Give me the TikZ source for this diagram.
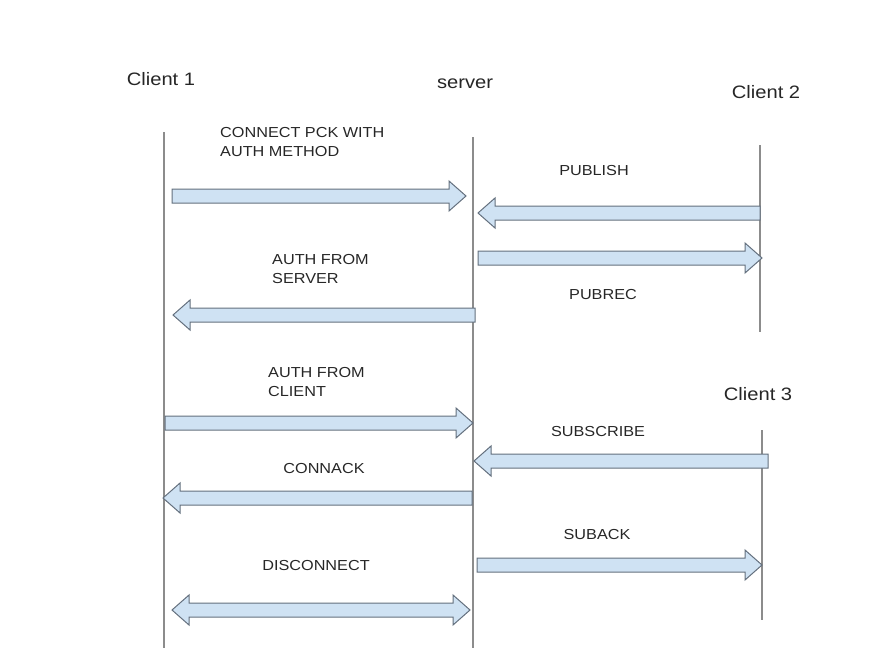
\documentclass[tikz,border=0pt]{standalone}
\usepackage{fontspec}
\setmainfont{Liberation Sans}[FakeStretch=1.12]
\begin{document}
\begin{tikzpicture}[x=1pt,y=-1pt,
  life/.style={draw=black!45,line width=1.1pt},
  blk/.style={fill={rgb,255:red,207;green,226;blue,243},draw={rgb,255:red,100;green,112;blue,126},line width=1pt,line join=miter},
  head/.style={font=\fontsize{18}{20}\selectfont,text=black!85,inner sep=0pt},
  lbl/.style={font=\fontsize{14.5}{19}\selectfont,text=black!85,inner sep=0pt,align=left}]
\useasboundingbox (0,0) rectangle (875,653);
\newcommand\arR[3]{\draw[blk] (#1,#3-7) -- (#2-17,#3-7) -- (#2-17,#3-15) -- (#2,#3) -- (#2-17,#3+15) -- (#2-17,#3+7) -- (#1,#3+7) -- cycle;}
\newcommand\arL[3]{\draw[blk] (#1,#3-7) -- (#2+17,#3-7) -- (#2+17,#3-15) -- (#2,#3) -- (#2+17,#3+15) -- (#2+17,#3+7) -- (#1,#3+7) -- cycle;}
% lifelines
\coordinate (c1t) at (164,132); \coordinate (c1b) at (164,648);
\coordinate (st) at (473,137); \coordinate (sb) at (473,648);
\coordinate (c2t) at (760,145); \coordinate (c2b) at (760,332);
\coordinate (c3t) at (762,430); \coordinate (c3b) at (762,620);
\draw[life] (c1t) -- (c1b);
\draw[life] (st) -- (sb);
\draw[life] (c2t) -- (c2b);
\draw[life] (c3t) -- (c3b);
% headers
\node[head] (h1) at (161,79) {Client 1};
\node[head] (hs) at (465,84) {server};
\node[head] (h2) at (766,92) {Client 2};
\node[head] (h3) at (758,394) {Client 3};
% labels
\node[lbl,anchor=west] (l1) at (220,142) {CONNECT PCK WITH\\AUTH METHOD};
\node[lbl] (l2) at (594,171) {PUBLISH};
\node[lbl,anchor=west] (l3) at (272,269) {AUTH FROM\\SERVER};
\node[lbl] (l4) at (603,295) {PUBREC};
\node[lbl,anchor=west] (l5) at (268,382) {AUTH FROM\\CLIENT};
\node[lbl] (l6) at (598,432) {SUBSCRIBE};
\node[lbl] (l7) at (324,469) {CONNACK};
\node[lbl] (l8) at (597,535) {SUBACK};
\node[lbl] (l9) at (316,566) {DISCONNECT};
% arrows
\arR{172}{466}{196}
\arL{760}{478}{213}
\arR{478}{762}{258}
\arL{475}{173}{315}
\arR{165}{473}{423}
\arL{768}{474}{461}
\arL{472}{163}{498}
\arR{477}{762}{565}
\draw[blk] (172,610) -- (189,595) -- (189,603) -- (453,603) -- (453,595) -- (470,610) -- (453,625) -- (453,617) -- (189,617) -- (189,625) -- cycle;
\end{tikzpicture}
\end{document}
